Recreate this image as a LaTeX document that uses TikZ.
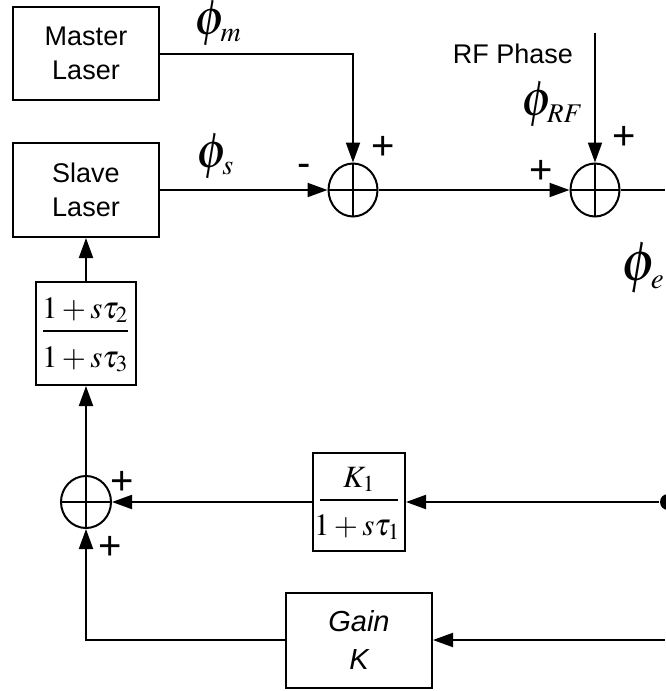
\documentclass[tikz,border=0pt]{standalone}
\usepackage{mathptmx}
\usepackage[no-math]{fontspec}
\setmainfont{Liberation Sans}
\usetikzlibrary{arrows.meta,shapes.geometric}
\newcommand{\subt}[2][28]{\hbox{\fontsize{#1}{#1}\selectfont$#2$}}
\begin{document}
\begin{tikzpicture}[x=1pt,y=-1pt, line width=2pt,
  >={Triangle[length=20pt,width=14pt]},
  blk/.style={draw, rectangle, inner sep=0pt, align=center, font=\fontsize{27}{34}\selectfont},
  ftxt/.style={inner sep=0pt, anchor=base, font=\fontsize{31}{31}\selectfont},
  fbar/.style={line width=1.5pt},
  summ/.style={draw, ellipse, minimum width=49pt, minimum height=53pt, inner sep=0pt,
    path picture={\draw (path picture bounding box.north) -- (path picture bounding box.south)
      (path picture bounding box.west) -- (path picture bounding box.east);}},
  sig/.style={font=\fontsize{40}{40}\selectfont, inner sep=0pt},
  phil/.style={font=\fontsize{50}{50}\selectfont, inner sep=0pt},
  lbl/.style={font=\fontsize{27}{32}\selectfont, inner sep=0pt, align=center}
]
\useasboundingbox (0,0) rectangle (665,691);

% blocks
\node[blk, minimum width=146pt, minimum height=93pt] (master) at (86,53.5) {Master\\Laser};
\node[blk, minimum width=146pt, minimum height=94pt] (slave) at (86,190) {Slave\\Laser};
\node[blk, minimum width=100pt, minimum height=103pt] (filt) at (86,333.5) {};
\node[blk, minimum width=92pt, minimum height=98pt] (k1) at (359,502) {};
\node[blk, font=\fontsize{29}{38}\selectfont\itshape, minimum width=146pt, minimum height=95pt] (gain) at (359,640) {Gain\\K};

% fraction texts
\node[ftxt] (filtnum) at (85,318) {$1+ s\tau_2$};
\draw[fbar] (43,331) -- (128,331);
\node[ftxt] (filtden) at (85,367) {$1+ s\tau_3$};
\node[ftxt] (k1num) at (359,487) {$K_1$};
\draw[fbar] (320,500) -- (398,500);
\node[ftxt] (k1den) at (357,535) {$1+ s\tau_1$};

% summers
\node[summ] (s1) at (353,190) {};
\node[summ] (s2) at (595,190) {};
\node[summ, minimum width=50pt, minimum height=52pt] (s3) at (86,502) {};

% free ends
\coordinate (rf) at (595,33);
\coordinate (out) at (665,190);
\coordinate (gin) at (665,640);
\node[circle, fill, inner sep=0pt, minimum size=16pt] (dot) at (668,502) {};

% connectors
\draw[->] (master.east) -| (s1.north);
\draw[->] (slave.east) -- (s1.west);
\draw[->] (s1.east) -- (s2.west);
\draw[->] (rf) -- (s2.north);
\draw (s2.east) -- (out);
\draw[->] (dot.west) -- (k1.east);
\draw[->] (k1.west) -- (s3.east);
\draw[->] (gin) -- (gain.east);
\draw[->] (gain.west) -| (s3.south);
\draw[->] (s3.north) -- (filt.south);
\draw[->] (filt.north) -- (slave.south);

% signal labels
\node[phil] (lm) at (218,23) {$\phi_{\subt{m}}$};
\node[phil] (ls) at (215,156) {$\phi_{\subt{s}}$};
\node[phil] (lrf) at (552,104) {$\phi_{\subt[27]{RF}}$};
\node[phil, font=\fontsize{56}{56}\selectfont] (le) at (643,268) {$\phi_{\subt[29]{e}}$};
\node[lbl] (rftext) at (513,54) {RF Phase};

% signs
\node[sig] (m1) at (304,170) {-};
\node[sig] (p1) at (383,148) {+};
\node[sig] (p2) at (541,172) {+};
\node[sig] (p3) at (624,138) {+};
\node[sig] (p4) at (122,483) {+};
\node[sig] (p5) at (110,548) {+};
\end{tikzpicture}
\end{document}
